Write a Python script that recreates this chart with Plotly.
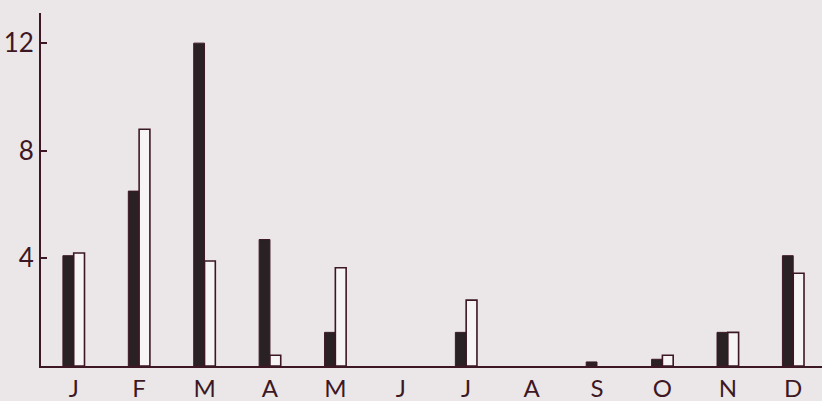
import plotly.graph_objects as go

months = ["J", "F", "M", "A", "M", "J", "J", "A", "S", "O", "N", "D"]
dark_values = [4.1, 6.5, 12.0, 4.7, 1.25, None, 1.25, None, 0.15, 0.25, 1.25, 4.1]
open_values = [4.2, 8.8, 3.9, 0.4, 3.65, None, 2.45, None, None, 0.4, 1.25, 3.45]
y_ticks = [4, 8, 12]

ink = "#3d1824"
bg = "#ebe7e8"
x = list(range(len(months)))

fig = go.Figure()
fig.add_trace(go.Bar(x=x, y=dark_values, marker=dict(color="#2a2125", line=dict(color=ink, width=1)), showlegend=False))
fig.add_trace(go.Bar(x=x, y=open_values, marker=dict(color="#f6f4f5", line=dict(color=ink, width=1.6)), showlegend=False))

fig.update_layout(
    width=822, height=401,
    margin=dict(l=41, r=0, t=13, b=35),
    paper_bgcolor=bg, plot_bgcolor=bg,
    barmode="group", bargap=0.67, bargroupgap=0,
    font=dict(family="Lato, DejaVu Sans, sans-serif", color=ink),
)
fig.update_xaxes(
    range=[-0.5, 11.44], tickmode="array", tickvals=x, ticktext=months,
    showline=True, linecolor=ink, linewidth=2, ticks="", showgrid=False,
    zeroline=False, tickfont=dict(size=24, color=ink),
)
fig.update_yaxes(
    range=[0, 13.12], tickmode="array", tickvals=y_ticks, ticktext=[str(v) for v in y_ticks],
    showline=True, linecolor=ink, linewidth=2, ticks="inside", ticklen=6, tickwidth=1.5,
    tickcolor=ink, showgrid=False, zeroline=False, tickfont=dict(size=26, color=ink),
)
fig.write_html("out.html")
